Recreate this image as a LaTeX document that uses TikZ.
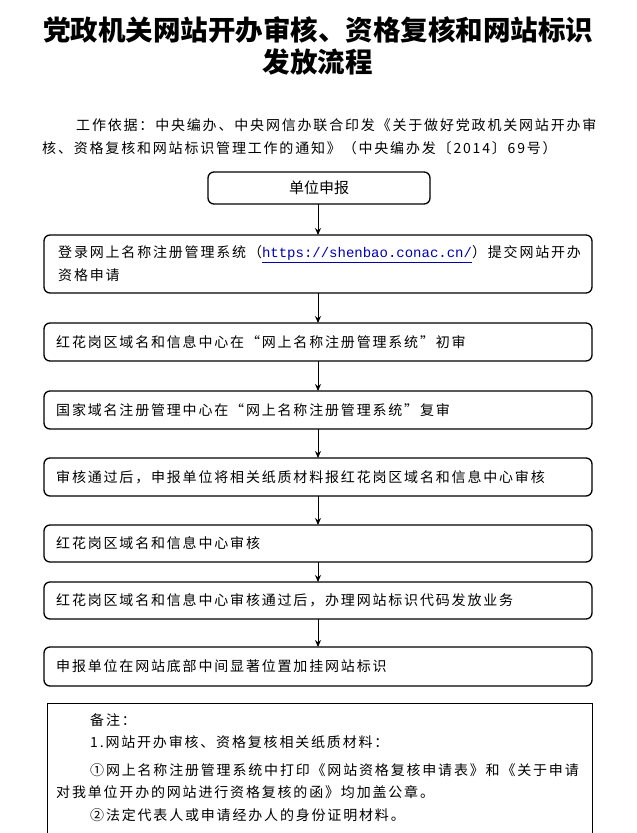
\documentclass[tikz,border=0pt]{standalone}
\usepackage{fontspec}
\setmainfont{Noto Sans CJK SC}
\newfontfamily\wide{Noto Sans CJK SC}[LetterSpace=13]
\newfontfamily\urlf{Liberation Mono}
\usetikzlibrary{arrows.meta}
\begin{document}
\begin{tikzpicture}[x=1pt,y=-1pt,
  box/.style={draw,line width=1.3pt,rounded corners=6pt,inner sep=0pt},
  txt/.style={anchor=west,font=\wide\fontsize{14}{16}\selectfont,inner sep=0pt},
  arr/.style={-{Stealth[length=7pt,width=6pt]},line width=1pt}]
\useasboundingbox (0,0) rectangle (637,833);
\node[font=\fontsize{27.5}{32}\selectfont\bfseries,align=center] (t) at (318,46) {党政机关网站开办审核、资格复核和网站标识\\发放流程};
\node[txt] (i1) at (76,125) {工作依据：中央编办、中央网信办联合印发《关于做好党政机关网站开办审};
\node[txt] (i2) at (42,148) {核、资格复核和网站标识管理工作的通知》（中央编办发〔2014〕69号）};
\draw[box] (208,172) rectangle (430,204);
\node[font=\fontsize{15}{16}\selectfont] (b1) at (319,188) {单位申报};
\coordinate (b1b) at (318,204);
\foreach \n/\a/\b in {2/235/293,3/323/361,4/391/429,5/458/496,6/525/562,7/582/619,8/647/686}{
  \draw[box] (44,\a) rectangle (592,\b);
  \coordinate (t\n) at (318,\a);
  \coordinate (d\n) at (318,\b);
}
\node[txt] (l2a) at (58,254) {登录网上名称注册管理系统（\textcolor{blue!70!black}{\underline{\urlf\fontsize{14}{16}\selectfont https://shenbao.conac.cn/}}）提交网站开办};
\node[txt] (l2b) at (58,275) {资格申请};
\node[txt] (l3) at (56,342) {红花岗区域名和信息中心在“网上名称注册管理系统”初审};
\node[txt] (l4) at (56,410) {国家域名注册管理中心在“网上名称注册管理系统”复审};
\node[txt] (l5) at (56,477) {审核通过后，申报单位将相关纸质材料报红花岗区域名和信息中心审核};
\node[txt] (l6) at (56,543) {红花岗区域名和信息中心审核};
\node[txt] (l7) at (56,600) {红花岗区域名和信息中心审核通过后，办理网站标识代码发放业务};
\node[txt] (l8) at (56,666) {申报单位在网站底部中间显著位置加挂网站标识};
\draw[arr] (b1b) -- (t2);
\draw[arr] (d2) -- (t3);
\draw[arr] (d3) -- (t4);
\draw[arr] (d4) -- (t5);
\draw[arr] (d5) -- (t6);
\draw[arr] (d6) -- (t7);
\draw[arr] (d7) -- (t8);
\draw[line width=0.9pt] (47,840) -- (47,703) -- (592,703) -- (592,840);
\node[txt] (n1) at (90,720) {备注：};
\node[txt] (n2) at (90,742) {1.网站开办审核、资格复核相关纸质材料：};
\node[txt] (n3) at (90,770) {①网上名称注册管理系统中打印《网站资格复核申请表》和《关于申请};
\node[txt] (n4) at (56,792) {对我单位开办的网站进行资格复核的函》均加盖公章。};
\node[txt] (n5) at (90,815) {②法定代表人或申请经办人的身份证明材料。};
\end{tikzpicture}
\end{document}
